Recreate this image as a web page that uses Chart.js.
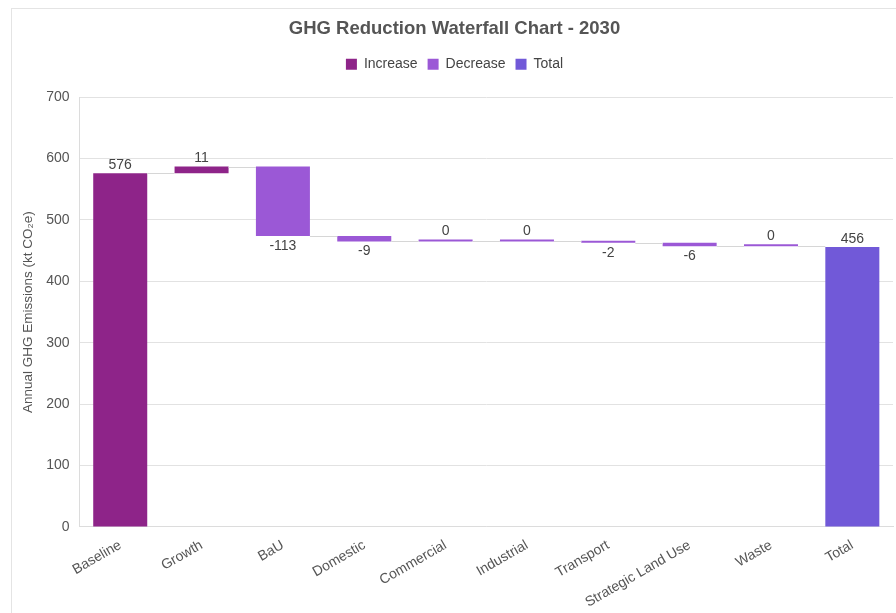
<!doctype html>
<html lang="en">
<head>
    <meta charset="UTF-8">
    <script src="https://cdn.jsdelivr.net/npm/chart.js"></script>
    <title>GHG Reduction Waterfall Chart - 2030</title>
    <style>
        html, body { margin: 0; padding: 0; background: #fff; overflow: hidden; }
        .card {
            position: absolute; left: 11px; top: 8px; width: 900px; height: 620px;
            border-left: 1px solid #e4e4e4; border-top: 1px solid #e4e4e4;
        }
        #chart { position: absolute; left: 0; top: 0; }
    </style>
</head>
<body>
<div class="card">
    <canvas id="chart" width="884" height="604"></canvas>
</div>
<script>
// data
const categories = ['Baseline', 'Growth', 'BaU', 'Domestic', 'Commercial', 'Industrial', 'Transport', 'Strategic Land Use', 'Waste', 'Total'];
const changes = [576, 11, -113, -9, 0, 0, -2, -6, 0, 456];
const kinds = ['increase', 'increase', 'decrease', 'decrease', 'decrease', 'decrease', 'decrease', 'decrease', 'decrease', 'total'];
const yTicks = [0, 100, 200, 300, 400, 500, 600, 700];

const colors = { increase: '#8e2489', decrease: '#9b58d6', total: '#7159d8' };
const legendNames = { increase: 'Increase', decrease: 'Decrease', total: 'Total' };

// floating ranges for the waterfall
let running = 0;
const ranges = changes.map((v, i) => {
    if (kinds[i] === 'total') { running = v; return [0, v]; }
    const start = running;
    running += v;
    return [start, running];
});

const textColor = '#555';
const font = "'Liberation Sans', Arial, sans-serif";

// extra room under the legend
const legendMargin = {
    id: 'legendMargin',
    beforeInit(chart) {
        const fit = chart.legend.fit;
        chart.legend.fit = function () {
            fit.bind(chart.legend)();
            this.height += 16;
        };
    }
};

const waterfallExtras = {
    id: 'waterfallExtras',
    afterDatasetsDraw(chart) {
        const ctx = chart.ctx;
        const meta = chart.getDatasetMeta(0);
        const y = chart.scales.y;
        ctx.save();
        // connector lines
        ctx.strokeStyle = '#d6d6d6';
        ctx.lineWidth = 1;
        for (let i = 0; i < meta.data.length - 1; i++) {
            const a = meta.data[i], b = meta.data[i + 1];
            const py = Math.round(y.getPixelForValue(ranges[i][1])) + 0.5;
            ctx.beginPath();
            ctx.moveTo(a.x + a.width / 2, py);
            ctx.lineTo(b.x - b.width / 2, py);
            ctx.stroke();
        }
        // value labels
        ctx.fillStyle = '#444';
        ctx.font = '14px ' + font;
        ctx.textAlign = 'center';
        meta.data.forEach((bar, i) => {
            const v = changes[i];
            const top = Math.min(bar.y, bar.base);
            const bottom = Math.max(bar.y, bar.base);
            if (v < 0) {
                ctx.textBaseline = 'top';
                ctx.fillText(String(v), bar.x, bottom + 3);
            } else {
                ctx.textBaseline = 'bottom';
                ctx.fillText(String(v), bar.x, top - 1);
            }
        });
        ctx.restore();
    }
};

new Chart(document.getElementById('chart'), {
    type: 'bar',
    data: {
        labels: categories,
        datasets: [{
            data: ranges,
            backgroundColor: kinds.map(k => colors[k]),
            borderWidth: 0,
            minBarLength: 2,
            barPercentage: 0.83,
            categoryPercentage: 0.8
        }]
    },
    options: {
        responsive: false,
        animation: false,
        layout: { padding: { left: 4, right: 3, top: 4, bottom: 0 } },
        plugins: {
            title: {
                display: true,
                text: 'GHG Reduction Waterfall Chart - 2030',
                color: '#555',
                font: { family: font, size: 18.5, weight: 'bold' },
                padding: { top: 5, bottom: 7 }
            },
            legend: {
                display: true,
                labels: {
                    color: '#444',
                    font: { family: font, size: 14 },
                    boxWidth: 11,
                    boxHeight: 11,
                    padding: 10,
                    generateLabels: () => ['increase', 'decrease', 'total'].map(k => ({
                        text: legendNames[k],
                        fillStyle: colors[k],
                        strokeStyle: colors[k],
                        lineWidth: 0,
                        fontColor: '#444'
                    }))
                },
                onClick: () => {}
            },
            tooltip: { enabled: false }
        },
        scales: {
            x: {
                grid: { display: false },
                border: { color: '#dcdcdc' },
                ticks: {
                    color: textColor,
                    font: { family: font, size: 14 },
                    minRotation: 30,
                    maxRotation: 30,
                    autoSkip: false,
                    padding: 2
                },
                afterFit: scale => { scale.paddingLeft = 0; scale.paddingRight = 0; }
            },
            y: {
                min: 0,
                max: 700,
                afterBuildTicks: axis => { axis.ticks = yTicks.map(v => ({ value: v })); },
                grid: { color: '#e2e2e2', drawTicks: false },
                border: { color: '#dcdcdc' },
                ticks: {
                    color: textColor,
                    font: { family: font, size: 14 },
                    padding: 10
                },
                title: {
                    display: true,
                    text: 'Annual GHG Emissions (kt CO\u2082e)',
                    color: textColor,
                    font: { family: font, size: 13.5 },
                    padding: { top: 4, bottom: 0 }
                }
            }
        }
    },
    plugins: [legendMargin, waterfallExtras]
});
</script>
</body>
</html>
